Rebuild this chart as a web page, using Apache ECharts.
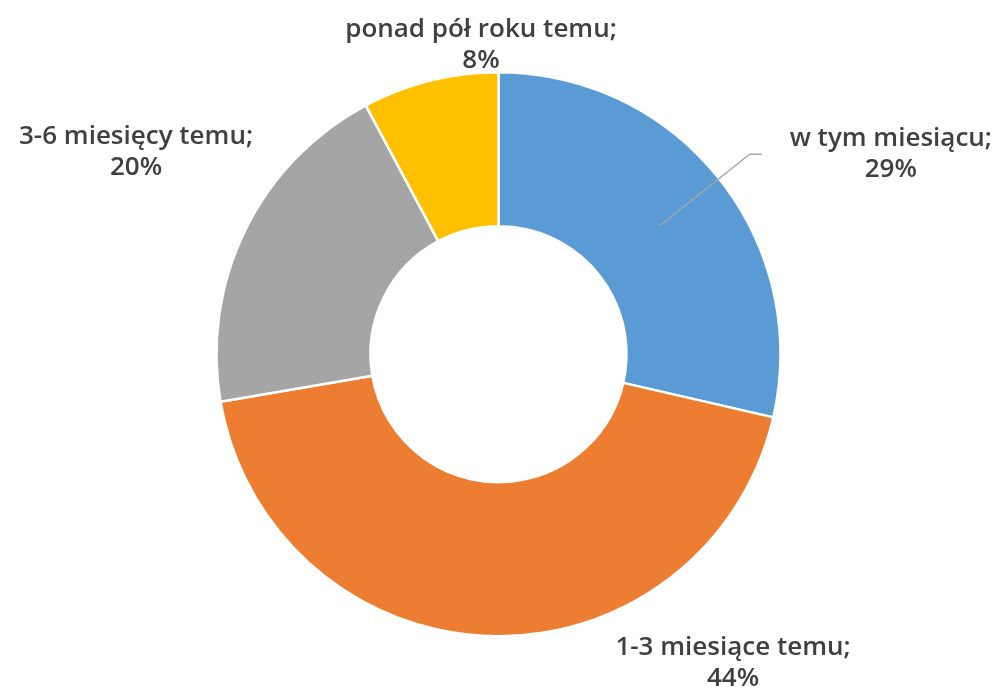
<!DOCTYPE html>
<html>
<head>
<meta charset="utf-8">
<script src="https://cdn.jsdelivr.net/npm/echarts@6/dist/echarts.min.js"></script>
<style>
html,body{margin:0;padding:0;background:#fff;}
#chart{width:996px;height:689px;}
</style>
</head>
<body>
<div id="chart"></div>
<script>
// ---- data ----
const categories = ['w tym miesiącu', '1-3 miesiące temu', '3-6 miesięcy temu', 'ponad pół roku temu'];
const values = [28.6, 43.7, 19.9, 7.8];
const colors = ['#5B9BD5', '#ED7D31', '#A5A5A5', '#FFC000'];

// ---- layout (label anchor positions, not data) ----
const labelPos = {
  1: [733, 663],
  2: [136, 152],
  3: [481, 45]
};

const textStyle = {
  fontFamily: 'Open Sans',
  fontWeight: 600,
  fontSize: 26,
  color: '#404040',
  lineHeight: 31
};

function fmt(p) {
  return '{n|' + p.name + ';}\n{n|' + Math.round(p.percent) + '%}';
}

const chart = echarts.init(document.getElementById('chart'));
chart.setOption({
  backgroundColor: '#fff',
  animation: false,
  series: [
    {
      type: 'pie',
      center: ['50.05%', '51.4%'],
      radius: [128, 282],
      startAngle: 90,
      clockwise: true,
      avoidLabelOverlap: false,
      itemStyle: { borderColor: '#fff', borderWidth: 2.5 },
      label: {
        show: true,
        formatter: fmt,
        rich: { n: Object.assign({ align: 'center' }, textStyle) }
      },
      labelLine: { show: false },
      labelLayout: function (params) {
        const p = labelPos[params.dataIndex];
        if (!p) return {};
        return { x: p[0], y: p[1], align: 'center', verticalAlign: 'middle' };
      },
      data: categories.map((c, i) => ({
        name: c,
        value: values[i],
        itemStyle: { color: colors[i] },
        label: { show: i !== 0 }
      }))
    },
    {
      type: 'pie',
      z: 5,
      silent: true,
      center: ['50.05%', '51.4%'],
      radius: [0, 206],
      startAngle: 90,
      clockwise: true,
      avoidLabelOverlap: false,
      itemStyle: { color: 'rgba(0,0,0,0)', borderWidth: 0 },
      label: {
        show: true,
        position: 'outside',
        alignTo: 'none',
        distanceToLabelLine: 28,
        formatter: fmt,
        rich: { n: Object.assign({ align: 'center' }, textStyle) }
      },
      labelLine: {
        show: true,
        length: 115,
        length2: 12,
        lineStyle: { color: '#A6A6A6', width: 1.3 }
      },
      data: categories.map((c, i) => ({
        name: c,
        value: values[i],
        label: { show: i === 0 },
        labelLine: { show: i === 0 }
      }))
    }
  ]
});
</script>
</body>
</html>
